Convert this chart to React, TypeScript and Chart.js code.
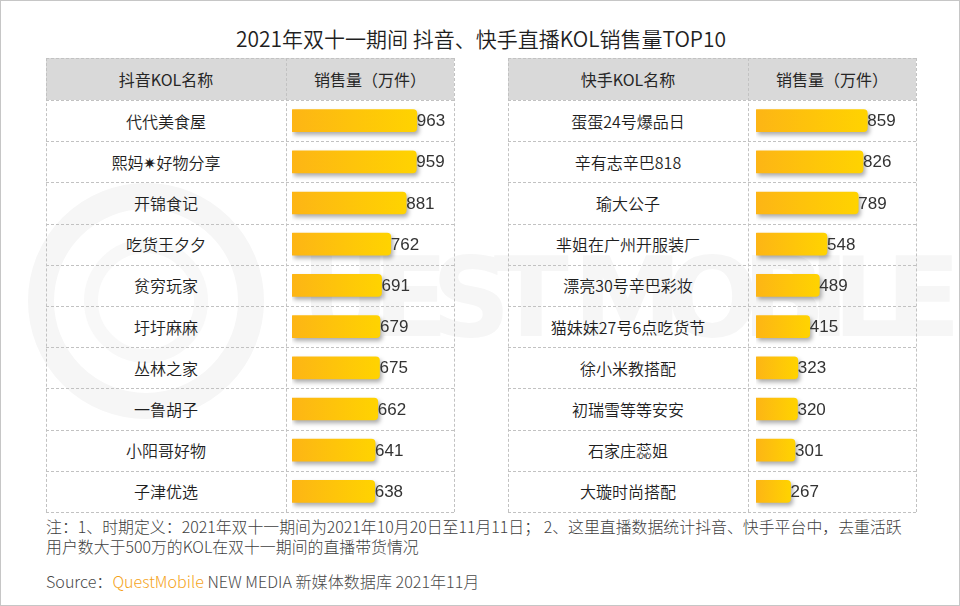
import React, { useEffect, useRef } from "react";
import { Chart, registerables } from "chart.js";

Chart.register(...registerables);

const titleText = "2021年双十一期间 抖音、快手直播KOL销售量TOP10";
const leftHeaders = ["抖音KOL名称", "销售量（万件）"];
const rightHeaders = ["快手KOL名称", "销售量（万件）"];

const douyinNames = [
  "代代美食屋",
  "熙妈✷好物分享",
  "开锦食记",
  "吃货王夕夕",
  "贫穷玩家",
  "圩圩麻麻",
  "丛林之家",
  "一鲁胡子",
  "小阳哥好物",
  "子津优选",
];
const douyinValues = [963, 959, 881, 762, 691, 679, 675, 662, 641, 638];

const kuaishouNames = [
  "蛋蛋24号爆品日",
  "辛有志辛巴818",
  "瑜大公子",
  "芈姐在广州开服装厂",
  "漂亮30号辛巴彩妆",
  "猫妹妹27号6点吃货节",
  "徐小米教搭配",
  "初瑞雪等等安安",
  "石家庄蕊姐",
  "大璇时尚搭配",
];
const kuaishouValues = [859, 826, 789, 548, 489, 415, 323, 320, 301, 267];

const noteLine1 =
  "注：1、时期定义：2021年双十一期间为2021年10月20日至11月11日； 2、这里直播数据统计抖音、快手平台中，去重活跃";
const noteLine2 = "用户数大于500万的KOL在双十一期间的直播带货情况";

const CJK = "'Noto Sans CJK SC', 'Noto Sans', sans-serif";
const TABLE_W = 408;
const NAME_W = 240;
const HEADER_H = 42;
const ROW_H = 41.2;
const BORDER = "1px dashed #c2c2c2";

const shadowPlugin = {
  id: "barShadow",
  beforeDatasetDraw(chart: any) {
    const c = chart.ctx;
    c.save();
    c.shadowColor = "rgba(0,0,0,0.32)";
    c.shadowBlur = 4;
    c.shadowOffsetX = 2;
    c.shadowOffsetY = 3;
  },
  afterDatasetDraw(chart: any) {
    chart.ctx.restore();
  },
};

const valueLabelPlugin = {
  id: "valueLabels",
  afterDatasetsDraw(chart: any) {
    const c = chart.ctx;
    const meta = chart.getDatasetMeta(0);
    const data = chart.data.datasets[0].data;
    c.save();
    c.font = "17px 'Liberation Sans Narrow', 'Arial Narrow', 'Liberation Sans', sans-serif";
    c.fillStyle = "#333333";
    c.textAlign = "left";
    c.textBaseline = "middle";
    meta.data.forEach((el: any, i: number) => {
      c.fillText(String(data[i]), el.x, el.y + 1);
    });
    c.restore();
  },
};

function BarColumn({ values, labels, max, padLeft }: { values: number[]; labels: string[]; max: number; padLeft: number }) {
  const ref = useRef<HTMLCanvasElement | null>(null);
  useEffect(() => {
    if (!ref.current) return;
    const chart = new Chart(ref.current, {
      type: "bar",
      data: {
        labels,
        datasets: [
          {
            data: values,
            backgroundColor: (ctx: any) => {
              const ch = ctx.chart;
              const area = ch.chartArea;
              if (!area || ctx.raw == null) return "#FFC410";
              const x1 = ch.scales.x.getPixelForValue(ctx.raw);
              const g = ch.ctx.createLinearGradient(area.left, 0, x1, 0);
              g.addColorStop(0, "#FDB515");
              g.addColorStop(1, "#FFD300");
              return g;
            },
            borderRadius: { topLeft: 1, bottomLeft: 1, topRight: 4, bottomRight: 4 },
            borderSkipped: false,
            barThickness: 22,
          },
        ],
      },
      options: {
        indexAxis: "y",
        responsive: false,
        maintainAspectRatio: false,
        animation: false,
        events: [],
        layout: { padding: { left: padLeft, right: 0, top: 0, bottom: 0 } },
        scales: {
          x: { display: false, min: 0, max },
          y: { display: false },
        },
        plugins: { legend: { display: false }, tooltip: { enabled: false } },
      },
      plugins: [shadowPlugin, valueLabelPlugin],
    } as any);
    return () => chart.destroy();
  }, [values, labels, max, padLeft]);
  const w = TABLE_W - NAME_W;
  const h = ROW_H * 10;
  return (
    <canvas
      ref={ref}
      width={w}
      height={h}
      style={{ position: "absolute", left: NAME_W, top: HEADER_H, width: w, height: h }}
    />
  );
}

function KolTable({ left, headers, names, values, max, padLeft }: { left: number; headers: string[]; names: string[]; values: number[]; max: number; padLeft: number }) {
  const H = HEADER_H + ROW_H * 10;
  const hLines: number[] = [0, HEADER_H];
  for (let i = 1; i <= 10; i++) hLines.push(HEADER_H + ROW_H * i);
  return (
    <div style={{ position: "absolute", left, top: 57, width: TABLE_W, height: H }}>
      <div style={{ position: "absolute", left: 0, top: 0, width: TABLE_W, height: HEADER_H, background: "#d9d9d9" }} />
      {hLines.map((y, i) => (
        <div key={"h" + i} style={{ position: "absolute", left: 0, top: y, width: TABLE_W, height: 0, borderTop: BORDER }} />
      ))}
      {[0, NAME_W, TABLE_W].map((x, i) => (
        <div key={"v" + i} style={{ position: "absolute", left: x, top: 0, width: 0, height: H, borderLeft: BORDER }} />
      ))}
      <div style={{ position: "absolute", left: 0, top: 0, width: NAME_W, height: HEADER_H, display: "flex", alignItems: "center", justifyContent: "center", fontSize: 16, color: "#262626" }}>
        {headers[0]}
      </div>
      <div style={{ position: "absolute", left: NAME_W, top: 0, width: TABLE_W - NAME_W, height: HEADER_H, display: "flex", alignItems: "center", justifyContent: "center", fontSize: 16, color: "#262626" }}>
        {headers[1]}
      </div>
      {names.map((n, i) => (
        <div
          key={n}
          style={{ position: "absolute", left: 0, top: HEADER_H + ROW_H * i, width: NAME_W, height: ROW_H, display: "flex", alignItems: "center", justifyContent: "center", fontSize: 16, fontWeight: 350, color: "#1e1e1e" }}
        >
          {n}
        </div>
      ))}
      <BarColumn values={values} labels={names} max={max} padLeft={padLeft} />
    </div>
  );
}

export default function App() {
  return (
    <div
      style={{
        position: "absolute",
        left: 0,
        top: 0,
        width: 960,
        height: 606,
        boxSizing: "border-box",
        border: "1px solid #c6c6c6",
        background: "#ffffff",
        overflow: "hidden",
        fontFamily: CJK,
      }}
    >
      <svg width={960} height={606} style={{ position: "absolute", left: 0, top: 0 }} aria-hidden="true">
        <circle cx={145} cy={300} r={105} fill="none" stroke="#f6f6f6" strokeWidth={26} />
        <circle cx={145} cy={300} r={55} fill="none" stroke="#f8f8f8" strokeWidth={14} />
        <text x={300} y={335} fontSize={110} fontWeight={700} fill="#f6f6f6" fontFamily="'DejaVu Sans', sans-serif" textLength={660} lengthAdjust="spacing">
          UEST MOBILE
        </text>
      </svg>
      <div style={{ position: "absolute", left: 0, top: 22, width: 960, height: 30, lineHeight: "30px", textAlign: "center", fontSize: 21, fontWeight: 350, color: "#1f1f1f" }}>
        {titleText}
      </div>
      <KolTable left={45} headers={leftHeaders} names={douyinNames} values={douyinValues} max={1250} padLeft={6} />
      <KolTable left={507} headers={rightHeaders} names={kuaishouNames} values={kuaishouValues} max={1235} padLeft={8} />
      <div style={{ position: "absolute", left: 45, top: 516, fontSize: 15.9, fontWeight: 300, lineHeight: "20px", color: "#404040", whiteSpace: "nowrap" }}>
        {noteLine1}
        <br />
        {noteLine2}
      </div>
      <div style={{ position: "absolute", left: 45, top: 570, fontSize: 16.1, fontWeight: 300, lineHeight: "20px", color: "#4a4a4a", whiteSpace: "nowrap" }}>
        Source：<span style={{ color: "#F5A31A" }}>QuestMobile</span> NEW MEDIA 新媒体数据库 2021年11月
      </div>
    </div>
  );
}
